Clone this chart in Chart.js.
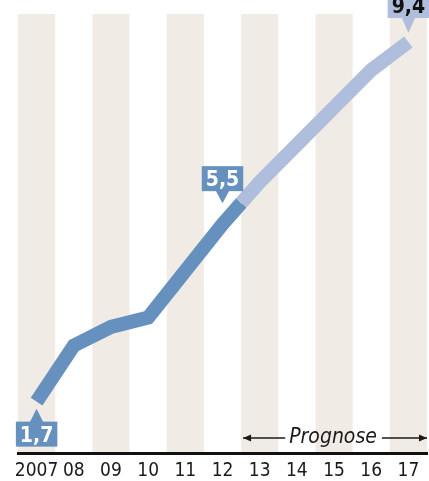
<!DOCTYPE html>
<html>
<head>
<meta charset="utf-8">
<script src="https://cdn.jsdelivr.net/npm/chart.js@4/dist/chart.umd.min.js"></script>
<style>
  html, body { margin: 0; padding: 0; background: #ffffff; }
  #wrap { width: 429px; height: 481px; position: relative; }
</style>
</head>
<body>
<div id="wrap"><canvas id="forecast-line-chart"></canvas></div>
<script>
// Daten
var years = ['2007', '08', '09', '10', '11', '12', '13', '14', '15', '16', '17'];
var values = [1.7, 2.9, 3.3, 3.5, 4.5, 5.5, 6.4, 7.2, 8.0, 8.8, 9.4];
var forecastFrom = '13';
var forecastLabel = 'Prognose';
var calloutYears = ['2007', '12', '17'];

var darkBlue = '#6690bd';
var lightBlue = '#afbedc';
var stripeColor = '#f0ece5';
var condensed = "'DejaVu Sans Condensed', 'DejaVu Sans', sans-serif";

function formatValue(v) {
  return v.toFixed(1).replace('.', ',');
}

// Linienfarbe: dunkel bis zur Mitte zwischen 12 und 13, danach hell
function lineColor(context) {
  var chart = context.chart;
  var xs = chart.scales.x, ys = chart.scales.y;
  if (!chart.chartArea || !xs || !ys) return darkBlue;
  var i = years.indexOf(forecastFrom);
  var x0 = xs.getPixelForValue(i - 1), y0 = ys.getPixelForValue(values[i - 1]);
  var x1 = xs.getPixelForValue(i), y1 = ys.getPixelForValue(values[i]);
  var g = chart.ctx.createLinearGradient(x0, y0, x1, y1);
  g.addColorStop(0, darkBlue);
  g.addColorStop(0.5, darkBlue);
  g.addColorStop(0.5, lightBlue);
  g.addColorStop(1, lightBlue);
  return g;
}

// Hintergrundstreifen fuer jedes zweite Jahr (vor der Achse zeichnen)
var stripes = {
  id: 'stripes',
  beforeDraw: function(chart) {
    var ctx = chart.ctx, xs = chart.scales.x, area = chart.chartArea;
    var w = xs.getPixelForValue(1) - xs.getPixelForValue(0);
    ctx.save();
    ctx.fillStyle = stripeColor;
    for (var i = 0; i < years.length; i += 2) {
      var cx = xs.getPixelForValue(i);
      ctx.fillRect(cx - w / 2, area.top, w, area.bottom - area.top);
    }
    ctx.restore();
  }
};

// Wertekaestchen und Prognose-Pfeil
var callouts = {
  id: 'callouts',
  afterDatasetsDraw: function(chart) {
    var ctx = chart.ctx, xs = chart.scales.x, ys = chart.scales.y, area = chart.chartArea;
    var fi = years.indexOf(forecastFrom);
    ctx.save();

    var boxes = [
      { side: 'below', gap: 7, tri: 13, bg: darkBlue, fg: '#ffffff' },
      { side: 'above', gap: 21, tri: 12, bg: darkBlue, fg: '#ffffff' },
      { side: 'above', gap: 9, tri: 15, bg: lightBlue, fg: '#111111' }
    ];
    ctx.font = 'bold 21px ' + condensed;
    ctx.textAlign = 'center';
    ctx.textBaseline = 'middle';
    calloutYears.forEach(function(yr, k) {
      var i = years.indexOf(yr);
      var b = boxes[k];
      var px = xs.getPixelForValue(i), py = ys.getPixelForValue(values[i]);
      var text = formatValue(values[i]);
      var bw = Math.max(37, ctx.measureText(text).width + 8), bh = 25;
      var dir = b.side === 'below' ? 1 : -1;
      var tip = py + dir * b.gap;
      var base = tip + dir * b.tri;
      var top = dir > 0 ? base : base - bh;
      ctx.fillStyle = b.bg;
      ctx.beginPath();
      ctx.moveTo(px, tip);
      ctx.lineTo(px - 7, base + dir);
      ctx.lineTo(px + 7, base + dir);
      ctx.closePath();
      ctx.fill();
      ctx.fillRect(px - bw / 2, top, bw, bh);
      ctx.fillStyle = b.fg;
      ctx.fillText(text, px, top + bh / 2 + 2);
    });

    // Prognose-Pfeil ueber der Achse
    var w = xs.getPixelForValue(1) - xs.getPixelForValue(0);
    var left = xs.getPixelForValue(fi) - w / 2 + 2;
    var right = area.right;
    var mid = (left + right) / 2 - 2;
    var y = area.bottom - 15;
    ctx.font = 'italic 21px ' + condensed;
    ctx.fillStyle = '#1a1a1a';
    ctx.fillText(forecastLabel, mid, y);
    var tw = ctx.measureText(forecastLabel).width;
    ctx.strokeStyle = '#1a1a1a';
    ctx.lineWidth = 1.5;
    ctx.beginPath();
    ctx.moveTo(left, y); ctx.lineTo(mid - tw / 2 - 4, y);
    ctx.moveTo(mid + tw / 2 + 5, y); ctx.lineTo(right, y);
    ctx.stroke();
    ctx.beginPath();
    ctx.moveTo(left, y); ctx.lineTo(left + 8, y - 3.5); ctx.lineTo(left + 8, y + 3.5); ctx.closePath();
    ctx.moveTo(right, y); ctx.lineTo(right - 8, y - 3.5); ctx.lineTo(right - 8, y + 3.5); ctx.closePath();
    ctx.fill();
    ctx.restore();
  }
};

new Chart(document.getElementById('forecast-line-chart'), {
  type: 'line',
  data: {
    labels: years,
    datasets: [
      {
        data: values,
        borderColor: lineColor,
        borderWidth: 14,
        borderCapStyle: 'butt',
        borderJoinStyle: 'miter',
        pointRadius: 0,
        tension: 0,
        fill: false
      }
    ]
  },
  options: {
    responsive: true,
    maintainAspectRatio: false,
    animation: false,
    layout: { padding: { left: 18, right: 2, top: 14, bottom: 0 } },
    plugins: {
      legend: { display: false },
      tooltip: { enabled: false }
    },
    scales: {
      x: {
        offset: true,
        grid: { display: false, drawTicks: false },
        border: { display: true, color: '#111111', width: 3 },
        ticks: {
          color: '#1a1a1a',
          font: { family: condensed, size: 19 },
          padding: 7,
          maxRotation: 0,
          autoSkip: false
        },
        afterFit: function(scale) { scale.height = 28; }
      },
      y: {
        display: false,
        min: 0.6,
        max: 10
      }
    }
  },
  plugins: [stripes, callouts]
});
</script>
</body>
</html>
